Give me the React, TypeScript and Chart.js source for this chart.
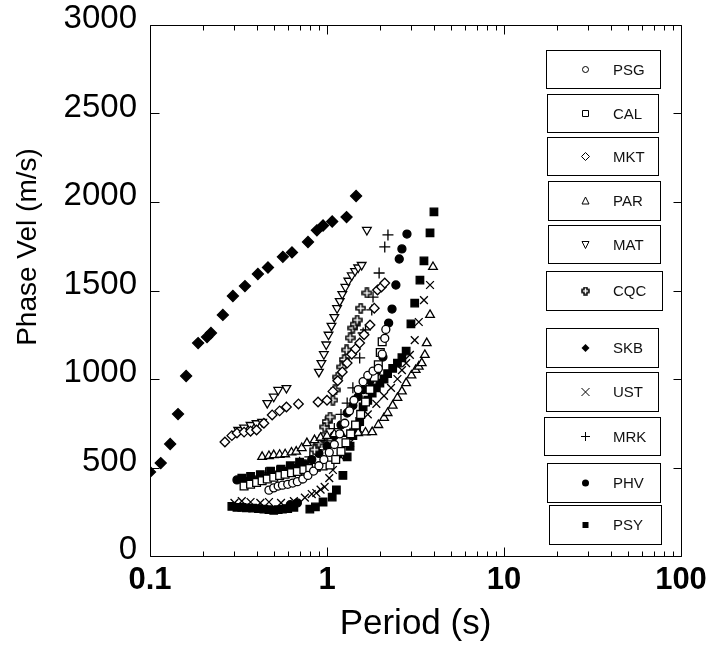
import React, { useEffect, useRef } from 'react';
import { Chart, registerables } from 'chart.js';
Chart.register(...registerables);

// ---------------- data ----------------
const seriesNames = ['PSG', 'CAL', 'MKT', 'PAR', 'MAT', 'CQC', 'SKB', 'UST', 'MRK', 'PHV', 'PSY'];

const psgPeriod = [0.47, 0.5, 0.53, 0.56, 0.6, 0.64, 0.68, 0.73, 0.78, 0.84, 0.9, 0.96, 1.03, 1.1, 1.18, 1.26, 1.34, 1.42, 1.5, 1.6, 1.7, 1.82, 1.95, 2.05, 2.12, 2.15];
const psgVel = [372, 385, 395, 400, 405, 412, 420, 435, 455, 480, 510, 545, 585, 630, 690, 750, 820, 880, 940, 985, 1020, 1045, 1060, 1140, 1230, 1280];

const calPeriod = [0.34, 0.37, 0.4, 0.43, 0.46, 0.5, 0.54, 0.58, 0.63, 0.68, 0.74, 0.8, 0.87, 0.95, 1.04, 1.12, 1.2, 1.28, 1.36, 1.45, 1.55, 1.65, 1.75, 1.85, 1.95, 2.0, 2.05];
const calVel = [395, 405, 415, 425, 435, 445, 455, 462, 470, 478, 488, 495, 502, 508, 514, 545, 590, 640, 690, 740, 800, 870, 940, 1010, 1080, 1150, 1210];

const mktPeriod = [0.265, 0.29, 0.31, 0.34, 0.37, 0.4, 0.44, 0.49, 0.54, 0.59, 0.69, 0.89, 1.0, 1.08, 1.15, 1.22, 1.3, 1.38, 1.45, 1.53, 1.62, 1.75, 1.85, 1.93, 2.03, 2.12];
const mktVel = [644, 680, 695, 700, 705, 712, 750, 797, 820, 842, 859, 870, 880, 930, 990, 1040, 1090, 1140, 1170, 1203, 1250, 1305, 1400, 1503, 1520, 1542];

const parPeriod = [0.43, 0.47, 0.5, 0.54, 0.58, 0.63, 0.67, 0.72, 0.77, 0.85, 0.92, 1.0, 1.1, 1.2, 1.35, 1.5, 1.65, 1.8, 1.95, 2.1, 2.2, 2.35, 2.5, 2.65, 2.8, 3.0, 3.17, 3.3, 3.43, 3.57, 3.66, 3.82, 3.97];
const parVel = [560, 565, 570, 572, 575, 585, 590, 610, 638, 655, 668, 678, 688, 690, 692, 695, 698, 700, 740, 780, 808, 850, 893, 930, 977, 1020, 1051, 1070, 1090, 1136, 1203, 1362, 1633];

const matPeriod = [0.315, 0.34, 0.37, 0.4, 0.43, 0.46, 0.5, 0.53, 0.59, 0.9, 0.93, 0.96, 0.99, 1.02, 1.06, 1.1, 1.14, 1.18, 1.22, 1.27, 1.32, 1.38, 1.44, 1.5, 1.57, 1.68];
const matVel = [712, 725, 740, 750, 757, 864, 900, 938, 949, 1040, 1090, 1140, 1195, 1250, 1300, 1350, 1400, 1440, 1480, 1520, 1555, 1585, 1610, 1630, 1644, 1842];

const cqcPeriod = [0.85, 0.9, 0.95, 0.97, 1.0, 1.04, 1.08, 1.11, 1.15, 1.21, 1.25, 1.29, 1.35, 1.4, 1.44, 1.48, 1.55, 1.68];
const cqcVel = [600, 640, 672, 729, 760, 785, 881, 938, 1011, 1068, 1110, 1164, 1232, 1288, 1310, 1333, 1400, 1486];

const skbPeriod = [0.1, 0.115, 0.13, 0.144, 0.16, 0.187, 0.21, 0.221, 0.258, 0.294, 0.344, 0.407, 0.464, 0.563, 0.634, 0.781, 0.877, 0.95, 1.07, 1.29, 1.46];
const skbVel = [475, 525, 633, 802, 1017, 1203, 1237, 1260, 1362, 1469, 1525, 1593, 1630, 1690, 1715, 1774, 1840, 1867, 1890, 1915, 2034];

const ustPeriod = [0.3, 0.33, 0.37, 0.42, 0.47, 0.55, 0.65, 0.75, 0.82, 0.87, 0.92, 0.97, 1.03, 1.08, 1.2, 1.35, 1.5, 1.7, 1.9, 2.1, 2.3, 2.5, 2.65, 2.8, 2.94, 3.13, 3.3, 3.53, 3.82];
const ustVel = [300, 310, 305, 300, 305, 300, 310, 330, 350, 356, 375, 390, 440, 486, 560, 640, 720, 800, 860, 905, 950, 1000, 1050, 1090, 1136, 1220, 1322, 1446, 1531];

const mrkPeriod = [0.45, 0.52, 0.6, 0.7, 0.8, 0.9, 1.0, 1.1, 1.2, 1.3, 1.4, 1.53, 1.6, 1.65, 1.79, 1.82, 1.97, 2.12, 2.21];
const mrkVel = [470, 480, 500, 530, 560, 600, 650, 720, 800, 864, 950, 1119, 1260, 1277, 1390, 1463, 1599, 1746, 1814];

const phvPeriod = [0.31, 0.35, 0.4, 0.45, 0.5, 0.55, 0.6, 0.62, 0.68, 0.68, 0.75, 0.82, 0.9, 1.0, 1.1, 1.2, 1.3, 1.4, 1.5, 1.6, 1.75, 1.9, 2.07, 2.23, 2.33, 2.45, 2.56, 2.65, 2.83];
const phvVel = [430, 420, 430, 440, 450, 460, 480, 290, 300, 500, 520, 545, 580, 620, 680, 740, 808, 850, 900, 940, 990, 1040, 1124, 1316, 1395, 1531, 1678, 1735, 1819];

const psyPeriod = [0.29, 0.31, 0.33, 0.35, 0.38, 0.41, 0.44, 0.47, 0.5, 0.53, 0.56, 0.6, 0.65, 0.8, 0.86, 0.95, 1.07, 1.13, 1.23,
  0.33, 0.37, 0.42, 0.48, 0.55, 0.62, 0.7,
  1.3, 1.35, 1.4, 1.47, 1.53, 1.6, 1.7, 1.8, 1.9, 1.99, 2.1, 2.2, 2.35, 2.5, 2.65, 2.8, 2.98, 3.13, 3.35, 3.53, 3.82, 4.02];
const psyVel = [280, 275, 275, 272, 270, 268, 265, 262, 258, 262, 265, 268, 275, 265, 277, 305, 333, 373, 455,
  440, 450, 460, 480, 490, 510, 530,
  560, 620, 680, 712, 760, 842, 880, 921, 950, 977, 1000, 1030, 1060, 1090, 1120, 1158, 1311, 1429, 1559, 1667, 1825, 1944];

const xTickValues = [0.1, 0.2, 0.3, 0.4, 0.5, 0.6, 0.7, 0.8, 0.9, 1, 2, 3, 4, 5, 6, 7, 8, 9, 10, 20, 30, 40, 50, 60, 70, 80, 90, 100];
const xDecades = [0.1, 1, 10, 100];
const xTickLabels = ['0.1', '1', '10', '100'];
const yTickValues = [0, 500, 1000, 1500, 2000, 2500, 3000];
const xTitle = 'Period (s)';
const yTitle = 'Phase Vel (m/s)';

// ---------------- helpers ----------------
const FONT = '"Liberation Sans", Arial, sans-serif';
const pts = (xs: number[], ys: number[]) => xs.map((x, i) => ({ x, y: ys[i] }));
const isDecade = (v: number) => xDecades.some((d) => Math.abs(d - v) < 1e-9);

function plusOutline(size: number, arm: number, lw: number): HTMLCanvasElement {
  const c = document.createElement('canvas');
  c.width = size + 2;
  c.height = size + 2;
  const g = c.getContext('2d')!;
  const o = 1, s = size, a0 = (s - arm) / 2, a1 = (s + arm) / 2;
  g.beginPath();
  g.moveTo(o + a0, o);
  g.lineTo(o + a1, o);
  g.lineTo(o + a1, o + a0);
  g.lineTo(o + s, o + a0);
  g.lineTo(o + s, o + a1);
  g.lineTo(o + a1, o + a1);
  g.lineTo(o + a1, o + s);
  g.lineTo(o + a0, o + s);
  g.lineTo(o + a0, o + a1);
  g.lineTo(o, o + a1);
  g.lineTo(o, o + a0);
  g.lineTo(o + a0, o + a0);
  g.closePath();
  g.fillStyle = '#fff';
  g.fill();
  g.strokeStyle = '#000';
  g.lineWidth = lw;
  g.stroke();
  return c;
}

function drawSymbol(ctx: CanvasRenderingContext2D, name: string, x: number, y: number) {
  ctx.save();
  ctx.strokeStyle = '#000';
  ctx.fillStyle = '#000';
  ctx.lineWidth = 1;
  ctx.beginPath();
  switch (name) {
    case 'PSG':
      ctx.arc(x, y, 3, 0, Math.PI * 2);
      ctx.stroke();
      break;
    case 'CAL':
      ctx.rect(x - 3, y - 3, 6, 6);
      ctx.stroke();
      break;
    case 'MKT':
    case 'SKB':
      ctx.moveTo(x, y - 4);
      ctx.lineTo(x + 4, y);
      ctx.lineTo(x, y + 4);
      ctx.lineTo(x - 4, y);
      ctx.closePath();
      if (name === 'SKB') ctx.fill(); else ctx.stroke();
      break;
    case 'PAR':
      ctx.moveTo(x, y - 4);
      ctx.lineTo(x + 3.5, y + 3);
      ctx.lineTo(x - 3.5, y + 3);
      ctx.closePath();
      ctx.stroke();
      break;
    case 'MAT':
      ctx.moveTo(x, y + 4);
      ctx.lineTo(x + 3.5, y - 3);
      ctx.lineTo(x - 3.5, y - 3);
      ctx.closePath();
      ctx.stroke();
      break;
    case 'CQC':
      ctx.drawImage(plusOutline(7, 3, 1.5), x - 4.5, y - 4.5);
      break;
    case 'UST':
      ctx.moveTo(x - 4, y - 4);
      ctx.lineTo(x + 4, y + 4);
      ctx.moveTo(x + 4, y - 4);
      ctx.lineTo(x - 4, y + 4);
      ctx.stroke();
      break;
    case 'MRK':
      ctx.moveTo(x - 4.5, y);
      ctx.lineTo(x + 4.5, y);
      ctx.moveTo(x, y - 4.5);
      ctx.lineTo(x, y + 4.5);
      ctx.stroke();
      break;
    case 'PHV':
      ctx.arc(x, y, 3.5, 0, Math.PI * 2);
      ctx.fill();
      break;
    case 'PSY':
      ctx.rect(x - 3, y - 3, 6, 6);
      ctx.fill();
      break;
  }
  ctx.restore();
}

// legend box layout [left, top, right, bottom]
const legendBoxes = [
  [546, 50, 660, 88], [547, 94, 658, 132], [547, 137, 658, 175], [548, 181, 660, 220],
  [548, 225, 660, 263], [546, 271, 662, 310], [546, 328, 658, 367], [546, 372, 658, 411],
  [544, 417, 660, 455], [547, 463, 660, 502], [549, 505, 661, 544],
];

const boxLegend = {
  id: 'boxLegend',
  afterDraw(chart: any) {
    const ctx: CanvasRenderingContext2D = chart.ctx;
    ctx.save();
    seriesNames.forEach((name, i) => {
      const [l, t, r, b] = legendBoxes[i];
      ctx.fillStyle = '#fff';
      ctx.fillRect(l, t, r - l, b - t);
      ctx.strokeStyle = '#000';
      ctx.lineWidth = 1;
      ctx.strokeRect(l + 0.5, t + 0.5, r - l, b - t);
      const cy = (t + b) / 2 + 0.5;
      drawSymbol(ctx, name, 585.5, cy);
      ctx.fillStyle = '#111';
      ctx.font = '15px ' + FONT;
      ctx.textBaseline = 'middle';
      ctx.textAlign = 'left';
      ctx.fillText(name, 613, cy + 1);
    });
    ctx.restore();
  },
};

const yTitlePlugin = {
  id: 'yTitlePlugin',
  afterDraw(chart: any) {
    const ctx: CanvasRenderingContext2D = chart.ctx;
    ctx.save();
    ctx.translate(28, 247);
    ctx.rotate(-Math.PI / 2);
    ctx.fillStyle = '#000';
    ctx.font = '28px ' + FONT;
    ctx.textAlign = 'center';
    ctx.textBaseline = 'middle';
    ctx.fillText(yTitle, 0, 0);
    ctx.restore();
  },
};

const frame = {
  id: 'frame',
  afterDatasetsDraw(chart: any) {
    const { ctx, chartArea: a, scales } = chart;
    ctx.save();
    ctx.strokeStyle = '#000';
    ctx.lineWidth = 1;
    const L = Math.round(a.left) + 0.5, R = Math.round(a.right) + 0.5;
    const T = Math.round(a.top) + 0.5, B = Math.round(a.bottom) + 0.5;
    ctx.beginPath();
    ctx.rect(L, T, R - L, B - T);
    scales.x.ticks.forEach((t: any) => {
      const px = Math.round(scales.x.getPixelForValue(t.value)) + 0.5;
      const len = isDecade(t.value) ? 9 : 5;
      ctx.moveTo(px, B);
      ctx.lineTo(px, B - len);
      ctx.moveTo(px, T);
      ctx.lineTo(px, T + len);
    });
    scales.y.ticks.forEach((t: any) => {
      const py = Math.round(scales.y.getPixelForValue(t.value)) + 0.5;
      ctx.moveTo(L, py);
      ctx.lineTo(L + 9, py);
      ctx.moveTo(R, py);
      ctx.lineTo(R - 8, py);
    });
    ctx.stroke();
    ctx.restore();
  },
};

export default function App() {
  const ref = useRef<HTMLCanvasElement>(null);
  useEffect(() => {
    const cqcImg = plusOutline(9, 3, 1.5);
    const common = { borderColor: '#000', borderWidth: 1.3, showLine: false };
    const open = '#fff';
    const datasets: any[] = [
      { label: 'PSG', data: pts(psgPeriod, psgVel), pointStyle: 'circle', pointRadius: 4, backgroundColor: open },
      { label: 'CAL', data: pts(calPeriod, calVel), pointStyle: 'rect', pointRadius: 5.5, backgroundColor: open },
      { label: 'MKT', data: pts(mktPeriod, mktVel), pointStyle: 'rectRot', pointRadius: 4.8, backgroundColor: open },
      { label: 'PAR', data: pts(parPeriod, parVel), pointStyle: 'triangle', pointRadius: 5, backgroundColor: open },
      { label: 'MAT', data: pts(matPeriod, matVel), pointStyle: 'triangle', rotation: 180, pointRadius: 5, backgroundColor: open },
      { label: 'CQC', data: pts(cqcPeriod, cqcVel), pointStyle: cqcImg, pointRadius: 5, backgroundColor: open },
      { label: 'SKB', data: pts(skbPeriod, skbVel), pointStyle: 'rectRot', pointRadius: 5.5, backgroundColor: '#000' },
      { label: 'UST', data: pts(ustPeriod, ustVel), pointStyle: 'crossRot', pointRadius: 5.5, backgroundColor: '#000' },
      { label: 'MRK', data: pts(mrkPeriod, mrkVel), pointStyle: 'cross', pointRadius: 5.5, backgroundColor: '#000' },
      { label: 'PHV', data: pts(phvPeriod, phvVel), pointStyle: 'circle', pointRadius: 4, backgroundColor: '#000' },
      { label: 'PSY', data: pts(psyPeriod, psyVel), pointStyle: 'rect', pointRadius: 5.3, backgroundColor: '#000' },
    ].map((d) => ({ ...common, ...d }));

    const chart = new Chart(ref.current!, {
      type: 'scatter',
      data: { datasets },
      plugins: [frame, boxLegend, yTitlePlugin],
      options: {
        animation: false,
        responsive: false,
        events: [],
        layout: { padding: { left: 0, right: 29, top: 25, bottom: 0 } },
        plugins: { legend: { display: false }, tooltip: { enabled: false } },
        scales: {
          x: {
            type: 'logarithmic',
            min: 0.1,
            max: 100,
            afterBuildTicks: (s: any) => {
              s.ticks = xTickValues.map((v) => ({ value: v }));
            },
            afterFit: (s: any) => {
              s.height = 94;
              s.paddingLeft = 0;
              s.paddingRight = 0;
            },
            grid: { display: false, drawTicks: false },
            border: { display: false },
            ticks: {
              autoSkip: false,
              maxRotation: 0,
              padding: 6,
              color: '#000',
              font: { family: FONT, size: 31, weight: 'bold' as const },
              callback: (v: any) => {
                const i = xDecades.findIndex((d) => Math.abs(d - Number(v)) < 1e-9);
                return i >= 0 ? xTickLabels[i] : '';
              },
            },
            title: {
              display: true,
              text: xTitle,
              color: '#000',
              font: { family: FONT, size: 35 },
              padding: { top: 0, bottom: 5 },
            },
          },
          y: {
            type: 'linear',
            min: 0,
            max: 3000,
            afterBuildTicks: (s: any) => {
              s.ticks = yTickValues.map((v) => ({ value: v }));
            },
            afterFit: (s: any) => {
              s.width = 150;
              s.paddingTop = 0;
              s.paddingBottom = 0;
            },
            grid: { display: false, drawTicks: false },
            border: { display: false },
            ticks: {
              padding: 13,
              labelOffset: -6,
              color: '#000',
              font: { family: FONT, size: 33 },
              callback: (v: any) => String(v),
            },
            title: { display: false },
          },
        },
      },
    });
    return () => chart.destroy();
  }, []);
  return (
    <div style={{ position: 'absolute', left: 0, top: 0, width: 710, height: 650, background: '#fff' }}>
      <canvas ref={ref} width={710} height={650} style={{ display: 'block' }} />
    </div>
  );
}
